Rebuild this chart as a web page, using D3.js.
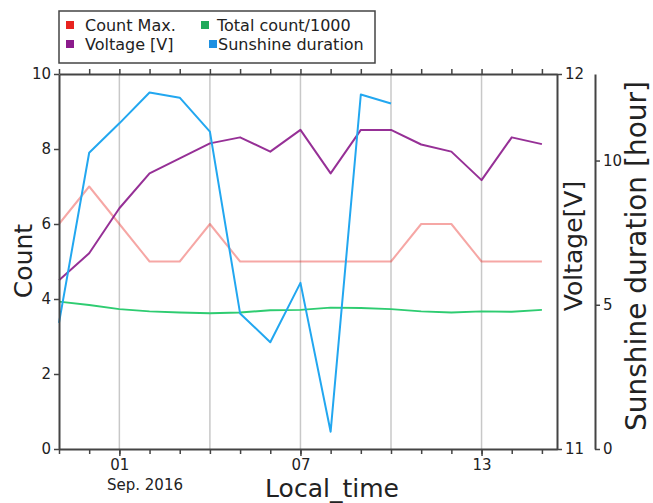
<html>
<script src="https://d3js.org/d3.v7.min.js"></script>
<body style="margin:0">
</body>
<script>
    // data
    let dates = ["2016-08-30","2016-08-31","2016-09-01","2016-09-02","2016-09-03","2016-09-04",
        "2016-09-05","2016-09-06","2016-09-07","2016-09-08","2016-09-09","2016-09-10",
        "2016-09-11","2016-09-12","2016-09-13","2016-09-14","2016-09-15"];
    let countMax = [6, 7, 6, 5, 5, 6, 5, 5, 5, 5, 5, 5, 6, 6, 5, 5, 5];
    let totalCount = [3930, 3840, 3730, 3670, 3640, 3620, 3640, 3700, 3710, 3770, 3760, 3730, 3670, 3640, 3670, 3660, 3710];
    let voltage = [11.45, 11.522, 11.642, 11.735, 11.775, 11.815, 11.831, 11.793, 11.851, 11.735,
        11.851, 11.851, 11.812, 11.793, 11.717, 11.831, 11.813];
    let sunshine = [4.37, 10.27, 11.29, 12.36, 12.18, 11.0, 4.70, 3.70, 5.76, 0.60, 12.29, 11.98,
        null, null, null, null, null];

    let countTicks = [0, 2, 4, 6, 8, 10];
    let voltTicks = [11, 12];
    let sunTicks = [0, 5, 10];
    let labelDays = ["2016-09-01", "2016-09-07", "2016-09-13"];
    let gridDays = ["2016-09-01", "2016-09-04", "2016-09-07", "2016-09-10", "2016-09-13"];

    let legendItems = [
        {name: "Count Max.", color: "#e8231f"},
        {name: "Voltage [V]", color: "#8b1a8b"},
        {name: "Total count/1000", color: "#1faa5a"},
        {name: "Sunshine duration", color: "#1e90e0"}
    ];

    let font = "DejaVu Sans, Verdana, sans-serif";
    let axisColor = "#444";
    let plotLeft = 59, plotRight = 557, plotTop = 74, plotBottom = 449;

    let svg = d3.select("body").append("svg")
        .attr("width", 653)
        .attr("height", 503)
        .style("font-family", font);

    let parse = d3.utcParse("%Y-%m-%d");
    let x = d3.scaleUtc()
        .domain([parse("2016-08-30"), d3.utcHour.offset(parse("2016-09-15"), 12)])
        .range([plotLeft, plotRight]);
    let yCount = d3.scaleLinear().domain([0, 10]).range([plotBottom, plotTop]);
    let yVolt = d3.scaleLinear().domain([11, 12]).range([plotBottom, plotTop]);
    let ySun = d3.scaleLinear().domain([0, 13]).range([plotBottom, plotTop]);

    // grid
    gridDays.forEach(d =>
        svg.append("line")
            .attr("x1", x(parse(d))).attr("x2", x(parse(d)))
            .attr("y1", plotTop).attr("y2", plotBottom)
            .attr("stroke", "#c8c8c8")
            .attr("stroke-width", 1.5)
    );

    function series(values) {
        return values.map((v, i) => ({t: parse(dates[i]), v: v}));
    }
    function drawLine(values, scale, color, opacity) {
        let line = d3.line()
            .defined(d => d.v !== null)
            .x(d => x(d.t))
            .y(d => scale(d.v));
        svg.append("path")
            .datum(series(values))
            .attr("d", line)
            .attr("fill", "none")
            .attr("stroke", color)
            .attr("stroke-width", 2)
            .attr("stroke-opacity", opacity)
            .attr("stroke-linejoin", "round");
    }

    drawLine(countMax, yCount, "#e8231f", 0.4);
    drawLine(totalCount.map(v => v / 1000), yCount, "#2ecc71", 1);
    drawLine(voltage, yVolt, "#8b1a8b", 0.9);
    drawLine(sunshine, ySun, "#22a7f0", 1);

    function styleAxis(g) {
        g.selectAll("path").attr("stroke", axisColor).attr("stroke-width", 2);
        g.selectAll("line").attr("stroke", axisColor).attr("stroke-width", 1.5);
        g.selectAll("text").attr("fill", "#222").style("font-size", "15px").style("font-family", font);
    }

    // bottom axis: daily minor ticks, labelled majors
    svg.append("g")
        .attr("transform", "translate(0," + plotBottom + ")")
        .call(d3.axisBottom(x).ticks(d3.utcDay.every(1)).tickSize(5).tickSizeOuter(0).tickFormat(""))
        .call(styleAxis);
    let xMajor = svg.append("g")
        .attr("transform", "translate(0," + plotBottom + ")")
        .call(d3.axisBottom(x).tickValues(labelDays.map(parse)).tickSize(7).tickSizeOuter(0)
            .tickFormat(d3.utcFormat("%d")).tickPadding(3))
        .call(styleAxis);
    xMajor.select(".domain").remove();

    svg.append("text")
        .attr("x", 107)
        .attr("y", 490)
        .attr("fill", "#222")
        .style("font-size", "15px")
        .text("Sep. 2016");

    // top axis
    svg.append("g")
        .attr("transform", "translate(0," + plotTop + ")")
        .call(d3.axisTop(x).ticks(d3.utcDay.every(1)).tickSize(5).tickSizeOuter(0).tickFormat(""))
        .call(styleAxis);

    // left count axis
    svg.append("g")
        .attr("transform", "translate(" + plotLeft + ",0)")
        .call(d3.axisLeft(yCount).tickValues(countTicks).tickSize(5).tickSizeOuter(0).tickPadding(3))
        .call(styleAxis);

    // right voltage axis
    svg.append("g")
        .attr("transform", "translate(" + plotRight + ",0)")
        .call(d3.axisRight(yVolt).tickValues(voltTicks).tickFormat(d3.format("d"))
            .tickSize(5).tickSizeOuter(0).tickPadding(3))
        .call(styleAxis);

    // sunshine axis, offset
    svg.append("g")
        .attr("transform", "translate(595,0)")
        .call(d3.axisRight(ySun).tickValues(sunTicks).tickSize(5).tickSizeOuter(0).tickPadding(3))
        .call(styleAxis);

    // axis titles
    svg.append("text")
        .attr("transform", "translate(32,261) rotate(-90)")
        .attr("text-anchor", "middle")
        .attr("fill", "#222")
        .style("font-size", "25px")
        .text("Count");
    svg.append("text")
        .attr("transform", "translate(582,246) rotate(-90)")
        .attr("text-anchor", "middle")
        .attr("fill", "#222")
        .style("font-size", "25px")
        .text("Voltage[V]");
    svg.append("text")
        .attr("transform", "translate(646,256) rotate(-90)")
        .attr("text-anchor", "middle")
        .attr("fill", "#222")
        .style("font-size", "28px")
        .text("Sunshine duration [hour]");
    svg.append("text")
        .attr("x", 332)
        .attr("y", 497)
        .attr("text-anchor", "middle")
        .attr("fill", "#222")
        .style("font-size", "25px")
        .text("Local_time");

    // legend
    svg.append("rect")
        .attr("x", 59).attr("y", 11)
        .attr("width", 316).attr("height", 52)
        .attr("fill", "white")
        .attr("stroke", axisColor)
        .attr("stroke-width", 1.5);
    let legendPos = [
        {sx: 66, tx: 85, y: 25},
        {sx: 66, tx: 85, y: 44},
        {sx: 201, tx: 217, y: 25},
        {sx: 209, tx: 218, y: 44}
    ];
    legendItems.forEach((item, i) => {
        let p = legendPos[i];
        svg.append("rect")
            .attr("x", p.sx).attr("y", p.y - 4)
            .attr("width", 8).attr("height", 8)
            .attr("fill", item.color);
        svg.append("text")
            .attr("x", p.tx).attr("y", p.y + 6)
            .attr("fill", "#222")
            .style("font-size", "16px")
            .text(item.name);
    });
</script>
</html>
